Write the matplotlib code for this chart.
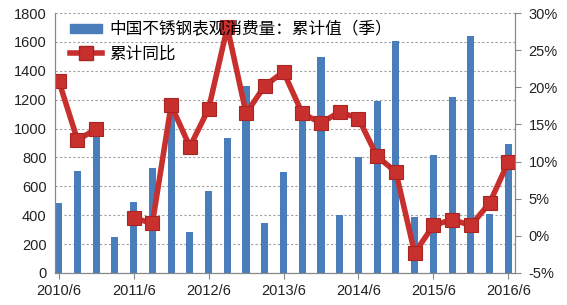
import numpy as np
import matplotlib.pyplot as plt
from matplotlib.patches import Patch
from matplotlib.lines import Line2D
from matplotlib.ticker import FuncFormatter

plt.rcParams['font.family'] = ['Liberation Sans', 'Noto Sans CJK SC', 'DejaVu Sans']

# quarterly data 2010/6 .. 2016/6
quarters = ['2010/6', '2010/9', '2010/12', '2011/3', '2011/6', '2011/9', '2011/12',
            '2012/3', '2012/6', '2012/9', '2012/12', '2013/3', '2013/6', '2013/9',
            '2013/12', '2014/3', '2014/6', '2014/9', '2014/12', '2015/3', '2015/6',
            '2015/9', '2015/12', '2016/3', '2016/6']
consumption = [485, 705, 965, 252, 492, 727, 1125, 284, 568, 935, 1295, 346, 700,
               1095, 1495, 402, 803, 1190, 1610, 388, 817, 1218, 1640, 408, 893]
yoy = [20.9, 12.9, 14.4, np.nan, 2.4, 1.7, 17.6, 12.0, 17.1, 28.1, 16.5, 20.2, 22.1,
       16.5, 15.2, 16.7, 15.8, 10.7, 8.6, -2.3, 1.4, 2.2, 1.4, 4.4, 9.95]

x = np.arange(len(quarters))
blue = '#4a7ebb'
red = '#c8302e'

fig = plt.figure(figsize=(5.67, 3.05), dpi=100)
ax = fig.add_axes([0.097, 0.105, 0.811, 0.852])
ax2 = ax.twinx()

ax.bar(x, consumption, width=0.38, color=blue, zorder=2)
ax.set_ylim(0, 1800)
ax.set_yticks(range(0, 1801, 200))
ax.set_xlim(-0.2, 24.35)
ax.set_xticks(x[::4])
ax.set_xticklabels(quarters[::4])
ax.yaxis.grid(True, linestyle=(0, (2, 2)), color='#a0a0a0', linewidth=0.8, zorder=0)
ax.set_axisbelow(True)

ax2.plot(x, yoy, color=red, linewidth=4, marker='s', markersize=10.5,
         markerfacecolor=red, markeredgecolor='#a82522', markeredgewidth=0.8)
ax2.set_ylim(-5, 30)
ax2.set_yticks(range(-5, 31, 5))
ax2.yaxis.set_major_formatter(FuncFormatter(lambda v, p: '%d%%' % v))

for a in (ax, ax2):
    a.spines['top'].set_visible(False)
    for s in ('left', 'right', 'bottom'):
        a.spines[s].set_color('#888888')
        a.spines[s].set_linewidth(0.8)
    a.tick_params(labelsize=10.5, colors='#222222', length=4, width=0.8)
ax.tick_params(axis='y', length=0, pad=6)
ax.tick_params(axis='x', color='#888888', pad=4)
ax2.tick_params(axis='y', color='#888888', pad=6)

handles = [Patch(facecolor=blue, edgecolor=blue),
           Line2D([], [], color=red, linewidth=4, marker='s', markersize=10,
                  markerfacecolor=red, markeredgecolor='#a82522')]
labels = ['中国不锈钢表观消费量：累计值（季）', '累计同比']
ax2.legend(handles, labels, loc='upper left', bbox_to_anchor=(0.0, 1.025),
           frameon=False, prop={'family': ['Noto Sans CJK SC', 'DejaVu Sans'], 'size': 12},
           handlelength=1.9, handleheight=0.5, handletextpad=0.45, labelspacing=0.4)

fig.savefig('out.png', dpi=100)
